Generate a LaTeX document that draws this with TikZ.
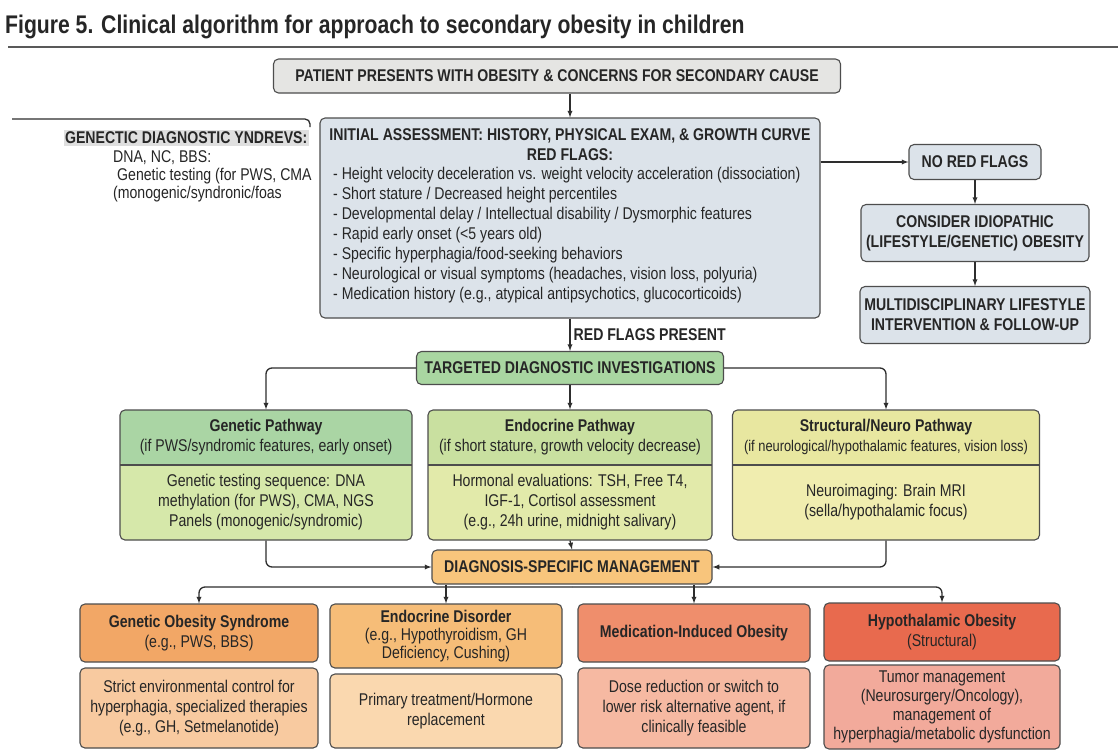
\documentclass[tikz,border=0pt]{standalone}
\usepackage{fontspec}
\setmainfont{Liberation Sans}[FakeStretch=0.83]

\newcommand{\titlefont}{\fontsize{25.5}{30}\selectfont\bfseries}
\newcommand{\bodyfont}{\fontsize{17}{20}\selectfont}
\newcommand{\capsfont}{\fontsize{17}{20}\selectfont\bfseries}

\definecolor{edgegray}{HTML}{4D4D4D}
\definecolor{linkgray}{HTML}{2E2E2E}
\definecolor{inkgray}{HTML}{262626}
\definecolor{patientfill}{HTML}{E5E5E3}
\definecolor{assessfill}{HTML}{DCE3EA}
\definecolor{targetfill}{HTML}{A9D6A1}
\definecolor{diagfill}{HTML}{F8C57C}
\definecolor{genhead}{HTML}{AAD5A4}
\definecolor{genbody}{HTML}{D6E8AA}
\definecolor{endhead}{HTML}{C9E0A0}
\definecolor{endbody}{HTML}{E2EAAA}
\definecolor{strhead}{HTML}{E8E7A0}
\definecolor{strbody}{HTML}{F0EDAF}
\definecolor{goshead}{HTML}{F2A766}
\definecolor{gosbody}{HTML}{F8CAA0}
\definecolor{edohead}{HTML}{F6BD78}
\definecolor{edobody}{HTML}{FAD8AF}
\definecolor{medhead}{HTML}{EF8E6C}
\definecolor{medbody}{HTML}{F6B9A2}
\definecolor{hyphead}{HTML}{E86A4E}
\definecolor{hypbody}{HTML}{F2AA9B}

\tikzset{
  box/.style={draw=edgegray, line width=1.1pt, rounded corners=5pt, align=center, text=inkgray, inner sep=2pt, font=\bodyfont},
  capbox/.style={box, font=\capsfont},
  link/.style={draw=linkgray, line width=1.3pt, -latex},
  pathbox/.style 2 args={box, fill=#2, minimum height=130,
    path picture={
      \fill[#1] (path picture bounding box.north west) rectangle ([yshift=-55pt]path picture bounding box.north east);
      \draw[edgegray, line width=1.1pt] ([yshift=-55pt]path picture bounding box.north west) -- ([yshift=-55pt]path picture bounding box.north east);
    }},
  txt/.style={align=center, text=inkgray, font=\bodyfont, inner sep=0pt},
}

\begin{document}
\begin{tikzpicture}[x=1pt, y=-1pt]
\useasboundingbox[fill=white] (0,0) rectangle (1118,755);

% title
\node[anchor=west, font=\titlefont, text=inkgray, inner sep=0pt] (title) at (5,27) {Figure 5. Clinical algorithm for approach to secondary obesity in children};
\draw[line width=2pt, black!65] (8,47) -- (1118,47);

% start and assessment
\node[capbox, fill=patientfill, minimum width=567, minimum height=34] (patient) at (557,76) {PATIENT PRESENTS WITH OBESITY \& CONCERNS FOR SECONDARY CAUSE};
\node[box, fill=assessfill, minimum width=500, minimum height=200] (assess) at (570,218) {};
\node[txt, font=\capsfont] (assesstitle) at (570,136) {INITIAL ASSESSMENT: HISTORY, PHYSICAL EXAM, \& GROWTH CURVE};
\node[txt, font=\capsfont] (redflags) at (570,155) {RED FLAGS:};
\node[txt, align=left, anchor=north west] (flaglist) at (333,167) {- Height velocity deceleration vs. weight velocity acceleration (dissociation)\\
- Short stature / Decreased height percentiles\\
- Developmental delay / Intellectual disability / Dysmorphic features\\
- Rapid early onset (<5 years old)\\
- Specific hyperphagia/food-seeking behaviors\\
- Neurological or visual symptoms (headaches, vision loss, polyuria)\\
- Medication history (e.g., atypical antipsychotics, glucocorticoids)};
\draw[link] (patient.south -| assess.north) -- (assess.north);

% left note
\draw[line width=1.3pt, linkgray, rounded corners=5pt] (12,119) -- (310,119) -- (310,127);
\node[txt, font=\capsfont, fill=gray!25, anchor=east, inner sep=1.5pt] (gdx) at (309,138) {GENECTIC DIAGNOSTIC YNDREVS:};
\node[txt, anchor=west] (gdxa) at (113,158) {DNA, NC, BBS:};
\node[txt, anchor=west] (gdxb) at (117,176) {Genetic testing (for PWS, CMA};
\node[txt, anchor=west] (gdxc) at (113,194) {(monogenic/syndronic/foas};

% no red flags branch
\node[capbox, fill=assessfill, minimum width=132, minimum height=35] (norf) at (975,162) {NO RED FLAGS};
\node[capbox, fill=assessfill, minimum width=228, minimum height=57] (idio) at (975,233) {CONSIDER IDIOPATHIC\\(LIFESTYLE/GENETIC) OBESITY};
\node[capbox, fill=assessfill, minimum width=230, minimum height=57] (lifestyle) at (975,315) {MULTIDISCIPLINARY LIFESTYLE\\INTERVENTION \& FOLLOW-UP};
\draw[link] (assess.east |- norf.west) -- (norf.west);
\draw[link] (norf) -- (idio);
\draw[link] (idio) -- (lifestyle);

% investigations
\node[capbox, fill=targetfill, minimum width=307, minimum height=33] (target) at (570,368) {TARGETED DIAGNOSTIC INVESTIGATIONS};
\draw[link] (assess.south) -- node[right, font=\capsfont, text=inkgray, inner sep=3pt] (rfp) {RED FLAGS PRESENT} (target.north);

\node[pathbox={genhead}{genbody}, minimum width=292] (genpath) at (266,475) {};
\node[txt] (gentitle) at (266,437) {\textbf{Genetic Pathway}\\(if PWS/syndromic features, early onset)};
\node[txt] (gentext) at (266,502) {Genetic testing sequence: DNA\\methylation (for PWS), CMA, NGS\\Panels (monogenic/syndromic)};

\node[pathbox={endhead}{endbody}, minimum width=284] (endpath) at (570,475) {};
\node[txt] (endtitle) at (570,437) {\textbf{Endocrine Pathway}\\(if short stature, growth velocity decrease)};
\node[txt] (endtext) at (570,502) {Hormonal evaluations: TSH, Free T4,\\IGF-1, Cortisol assessment\\(e.g., 24h urine, midnight salivary)};

\node[pathbox={strhead}{strbody}, minimum width=307] (strpath) at (886,475) {};
\node[txt] (strtitle) at (886,437) {\textbf{Structural/Neuro Pathway}\\{\fontsize{15.5}{20}\selectfont(if neurological/hypothalamic features, vision loss)}};
\node[txt] (strtext) at (886,502) {Neuroimaging: Brain MRI\\(sella/hypothalamic focus)};

\draw[link, rounded corners=6pt] (target.west) -| (genpath.north);
\draw[link] (target.south) -- (endpath.north);
\draw[link, rounded corners=6pt] (target.east) -| (strpath.north);

% outcomes
\node[box, fill=goshead, minimum width=238, minimum height=58] (gos) at (199,633) {\textbf{Genetic Obesity Syndrome}\\(e.g., PWS, BBS)};
\node[box, fill=gosbody, minimum width=238, minimum height=80] (gostext) at (199,708) {Strict environmental control for\\hyperphagia, specialized therapies\\(e.g., GH, Setmelanotide)};
\node[box, fill=edohead, minimum width=232, minimum height=64, font=\fontsize{17}{18}\selectfont] (edo) at (446,636) {\textbf{Endocrine Disorder}\\(e.g., Hypothyroidism, GH\\Deficiency, Cushing)};
\node[box, fill=edobody, minimum width=232, minimum height=74] (edotext) at (446,711) {Primary treatment/Hormone\\replacement};
\node[box, fill=medhead, minimum width=232, minimum height=58] (med) at (694,633) {\textbf{Medication-Induced Obesity}};
\node[box, fill=medbody, minimum width=232, minimum height=80] (medtext) at (694,708) {Dose reduction or switch to\\lower risk alternative agent, if\\clinically feasible};
\node[box, fill=hyphead, minimum width=236, minimum height=58] (hyp) at (942,632) {\textbf{Hypothalamic Obesity}\\(Structural)};
\node[box, fill=hypbody, minimum width=236, minimum height=84, font=\fontsize{17}{19}\selectfont] (hyptext) at (942,707) {Tumor management\\(Neurosurgery/Oncology),\\management of\\hyperphagia/metabolic dysfunction};

\coordinate (split) at (572,587);
\draw[link, rounded corners=6pt] (split) -| (gos.north);
\draw[link, rounded corners=6pt] (split) -| (hyp.north);

\node[capbox, fill=diagfill, minimum width=280, minimum height=34] (diag) at (572,567) {DIAGNOSIS-SPECIFIC MANAGEMENT};
\draw[link] (endpath.south) -- (diag.north);
\draw[link, rounded corners=6pt] (genpath.south) |- (diag.west);
\draw[link, rounded corners=6pt] (strpath.south) |- (diag.east);
\draw[link] (diag.south -| edo.north) -- (edo.north);
\draw[link] (diag.south -| med.north) -- (med.north);
\end{tikzpicture}
\end{document}
